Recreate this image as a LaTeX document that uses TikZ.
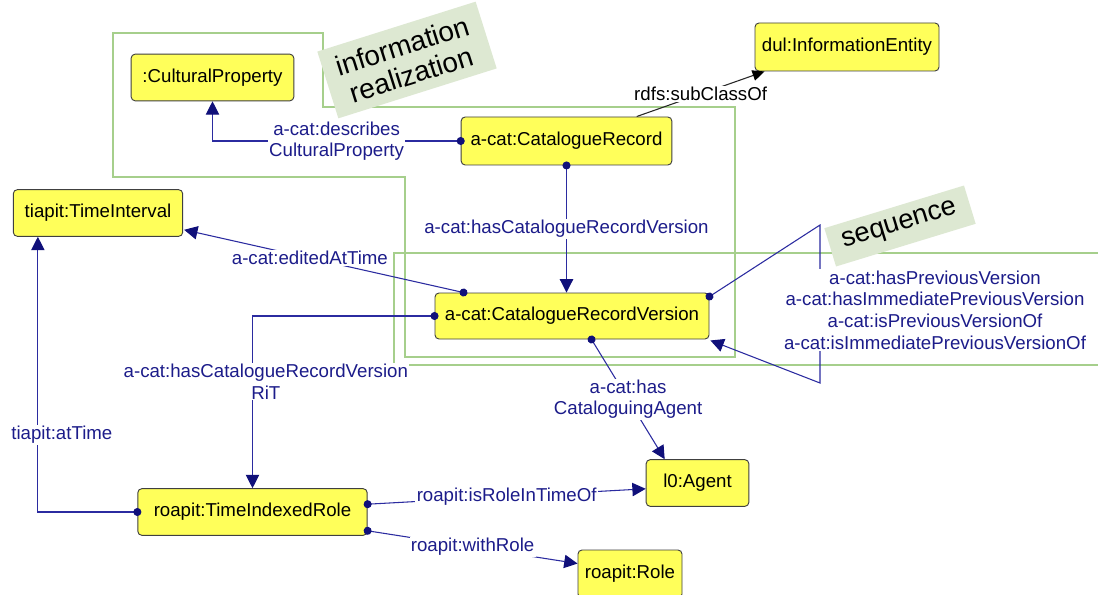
\documentclass[tikz,border=0pt]{standalone}
\usepackage{fontspec}
\setmainfont{Liberation Sans}
\usetikzlibrary{arrows.meta,calc}
\definecolor{nodey}{HTML}{FFFF5A}
\definecolor{navytext}{HTML}{1C1C8A}
\definecolor{edgeblue}{HTML}{2B2BA0}
\definecolor{arrowblue}{HTML}{10107A}
\definecolor{grpline}{HTML}{A6CF8C}
\definecolor{grpfill}{HTML}{DDE8D2}
\tikzset{
  cls/.style={draw=black!75, fill=nodey, rounded corners=3pt, line width=0.7pt,
    inner sep=0pt, minimum height=35pt, font=\fontsize{14}{16.5}\selectfont, text=black},
  edge/.style={draw=edgeblue, line width=0.8pt,
    {Circle[length=6pt, color=arrowblue]}-{Triangle[length=10pt, width=10pt, color=arrowblue]},
    shorten <=-3pt},
  elabel/.style={fill=white, inner sep=1pt, text=navytext, align=center,
    font=\fontsize{14}{16.2}\selectfont},
  grp/.style={draw=grpline, line width=0.8pt},
  grplabel/.style={fill=grpfill, inner sep=0pt, align=center, text=black}
}
\begin{document}
\begin{tikzpicture}[x=0.75pt, y=-0.75pt]
\useasboundingbox[fill=white] (0,0) rectangle (1098,595);

% groups
\draw[grp] (113,33) -- (323,33) -- (323,107) -- (735,107) -- (735,357) -- (405,357) -- (405,177) -- (113,177) -- cycle;
\draw[grp] (1105,253) -- (394,253) -- (394,365) -- (1105,365);
\node[grplabel, rotate=17.5, minimum width=124.5pt, minimum height=52.5pt,
  font=\fontsize{21}{22.5}\selectfont] (glab1) at (407,60) {information\\realization};
\node[grplabel, rotate=17, minimum width=109.5pt, minimum height=30pt,
  font=\fontsize{20.5}{22}\selectfont] (glab2) at (900,226) {sequence};

% classes
\node[cls, minimum width=122pt] (cp) at (212.5,77.5) {:CulturalProperty};
\node[cls, minimum width=138pt, minimum height=36pt] (ie) at (847,47) {dul:InformationEntity};
\node[cls, minimum width=158pt, minimum height=36pt] (cr) at (566.5,141) {a-cat:CatalogueRecord};
\node[cls, minimum width=127pt] (ti) at (98,213) {tiapit:TimeInterval};
\node[cls, minimum width=205.5pt, minimum height=34.5pt] (crv) at (572,316) {a-cat:CatalogueRecordVersion};
\node[cls, minimum width=172pt] (tir) at (252.5,512) {roapit:TimeIndexedRole};
\node[cls, minimum width=77pt, minimum height=35pt] (ag) at (697.5,483) {l0:Agent};
\node[cls, minimum width=78pt, minimum height=36pt] (role) at (630,574) {roapit:Role};

% connectors
\draw[edge] (cr.west) -| (cp.south)
  node[elabel, pos=0.25] {a-cat:describes\\CulturalProperty};

\draw[draw=black!85, line width=0.8pt, -{Triangle[length=9pt, width=8pt, color=black]}]
  ($(cr.north west)+(176,0)$) -- ($(ie.south west)+(10,0)$)
  node[midway, fill=white, inner sep=1pt, text=black, font=\fontsize{14}{16.5}\selectfont] {rdfs:subClassOf};

\draw[edge] (cr.south) -- (cr.south |- crv.north)
  node[elabel, midway] {a-cat:hasCatalogueRecordVersion};

\draw[edge] ($(crv.north west)+(29,0)$) -- ($(ti.south east)+(1,-7)$)
  node[elabel, pos=0.55] {a-cat:editedAtTime};

\draw[edge] (crv.west) -| (tir.north)
  node[elabel, pos=0.69, xshift=10pt] {a-cat:hasCatalogueRecordVersion\\RiT};

\coordinate (sq1) at (820,225);
\coordinate (sq2) at (820,383);
\draw[edge] ($(crv.north east)+(0,4)$) -- (sq1) -- (sq2) -- ($(crv.south east)+(1,1)$);
\node[elabel] (seqlab) at (935,310) {a-cat:hasPreviousVersion\\a-cat:hasImmediatePreviousVersion\\a-cat:isPreviousVersionOf\\a-cat:isImmediatePreviousVersionOf};

\draw[edge] ($(crv.south west)+(157,0)$) -- ($(ag.north west)+(19,0)$)
  node[elabel, midway] {a-cat:has\\CataloguingAgent};

\draw[edge] (tir.west) -| ($(ti.south west)+(25,0)$)
  node[elabel, pos=0.64, xshift=18pt] {tiapit:atTime};

\draw[edge] ($(tir.north east)+(0,16)$) -- ($(ag.south west)+(0,-18)$)
  node[elabel, midway] {roapit:isRoleInTimeOf};

\draw[edge] ($(tir.south east)+(0,-5)$) -- ($(role.north west)+(0,14)$)
  node[elabel, midway] {roapit:withRole};
\end{tikzpicture}
\end{document}
